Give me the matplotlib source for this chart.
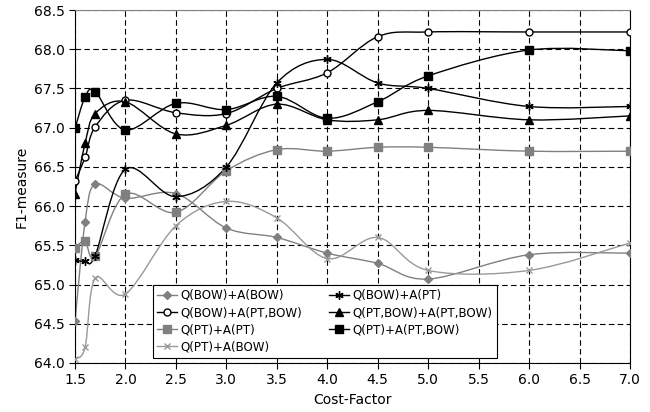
import matplotlib.pyplot as plt
from matplotlib.path import Path
from matplotlib.patches import PathPatch
from matplotlib.lines import Line2D

cost = [1.5, 1.6, 1.7, 2.0, 2.5, 3.0, 3.5, 4.0, 4.5, 5.0, 6.0, 7.0]

bow_bow = [64.53, 65.80, 66.28, 66.10, 66.16, 65.72, 65.60, 65.40, 65.27, 65.07, 65.38, 65.40]
bow_pt = [65.31, 65.30, 65.37, 66.47, 66.12, 66.50, 67.57, 67.87, 67.57, 67.50, 67.27, 67.27]
bow_ptbow = [66.32, 66.62, 67.01, 67.35, 67.19, 67.18, 67.50, 67.70, 68.16, 68.22, 68.22, 68.22]
ptbow_ptbow = [66.16, 66.80, 67.18, 67.33, 66.92, 67.03, 67.30, 67.10, 67.10, 67.22, 67.10, 67.15]
pt_pt = [65.47, 65.55, 65.36, 66.15, 65.92, 66.45, 66.72, 66.70, 66.75, 66.75, 66.70, 66.70]
pt_ptbow = [66.99, 67.39, 67.46, 66.97, 67.31, 67.23, 67.40, 67.12, 67.33, 67.66, 67.99, 67.98]
pt_bow = [64.05, 64.20, 65.08, 64.88, 65.75, 66.06, 65.85, 65.33, 65.60, 65.18, 65.18, 65.53]

labels = ["Q(BOW)+A(BOW)", "Q(BOW)+A(PT,BOW)", "Q(PT)+A(PT)", "Q(PT)+A(BOW)",
          "Q(BOW)+A(PT)", "Q(PT,BOW)+A(PT,BOW)", "Q(PT)+A(PT,BOW)"]
series = [bow_bow, bow_ptbow, pt_pt, pt_bow, bow_pt, ptbow_ptbow, pt_ptbow]
styles = [
    dict(color="#808080", marker="D", ms=4, mfc="#808080", mec="#808080"),
    dict(color="black", marker="o", ms=5, mfc="white", mec="black"),
    dict(color="#808080", marker="s", ms=6, mfc="#808080", mec="#808080"),
    dict(color="#999999", marker="x", ms=5, mfc="#999999", mec="#999999"),
    dict(color="black", marker=(6, 2, 0), ms=6, mfc="black", mec="black"),
    dict(color="black", marker="^", ms=6, mfc="black", mec="black"),
    dict(color="black", marker="s", ms=6, mfc="black", mec="black"),
]


def smooth_path(x, y):
    # Excel-like smoothed line: cubic Bezier segments (Catmull-Rom control points)
    verts = [(x[0], y[0])]
    codes = [Path.MOVETO]
    n = len(x)
    for i in range(n - 1):
        i0 = max(i - 1, 0)
        i3 = min(i + 2, n - 1)
        c1 = (x[i] + (x[i + 1] - x[i0]) / 6, y[i] + (y[i + 1] - y[i0]) / 6)
        c2 = (x[i + 1] - (x[i3] - x[i]) / 6, y[i + 1] - (y[i3] - y[i]) / 6)
        verts += [c1, c2, (x[i + 1], y[i + 1])]
        codes += [Path.CURVE4] * 3
    return Path(verts, codes)


fig = plt.figure(figsize=(6.5, 4.12), dpi=100)
ax = fig.add_axes([0.1154, 0.119, 0.8538, 0.8567])

handles = []
for vals, st, lab in zip(series, styles, labels):
    ax.add_patch(PathPatch(smooth_path(cost, vals), facecolor="none",
                           edgecolor=st["color"], lw=1.0, zorder=2))
    ax.plot(cost, vals, ls="none", marker=st["marker"], ms=st["ms"],
            mfc=st["mfc"], mec=st["mec"], mew=1.0, zorder=3)
    handles.append(Line2D([], [], color=st["color"], lw=1.0, marker=st["marker"],
                          ms=st["ms"], mfc=st["mfc"], mec=st["mec"], label=lab))

ax.set_xlim(1.5, 7.0)
ax.set_ylim(64.0, 68.5)
ax.set_xticks([1.5, 2.0, 2.5, 3.0, 3.5, 4.0, 4.5, 5.0, 5.5, 6.0, 6.5, 7.0])
ax.set_yticks([64.0, 64.5, 65.0, 65.5, 66.0, 66.5, 67.0, 67.5, 68.0, 68.5])
ax.xaxis.set_major_formatter(plt.FormatStrFormatter("%.1f"))
ax.yaxis.set_major_formatter(plt.FormatStrFormatter("%.1f"))
ax.tick_params(labelsize=10, direction="out", length=4, color="black")
ax.grid(True, ls=(0, (5, 3)), color="black", lw=0.8)
for s in ax.spines.values():
    s.set_color("black")
ax.spines["top"].set_color("#808080")
ax.set_xlabel("Cost-Factor", fontsize=10)
ax.set_ylabel("F1-measure", fontsize=10)

leg = ax.legend(handles=handles, ncol=2, loc="lower left",
                bbox_to_anchor=(0.14, 0.015), fontsize=8.6, frameon=True,
                fancybox=False, edgecolor="black", framealpha=1,
                handlelength=1.7, handletextpad=0.3, columnspacing=2.2,
                labelspacing=0.35, borderpad=0.35, borderaxespad=0)
leg.get_frame().set_linewidth(0.8)

fig.savefig("out.png", dpi=100)
